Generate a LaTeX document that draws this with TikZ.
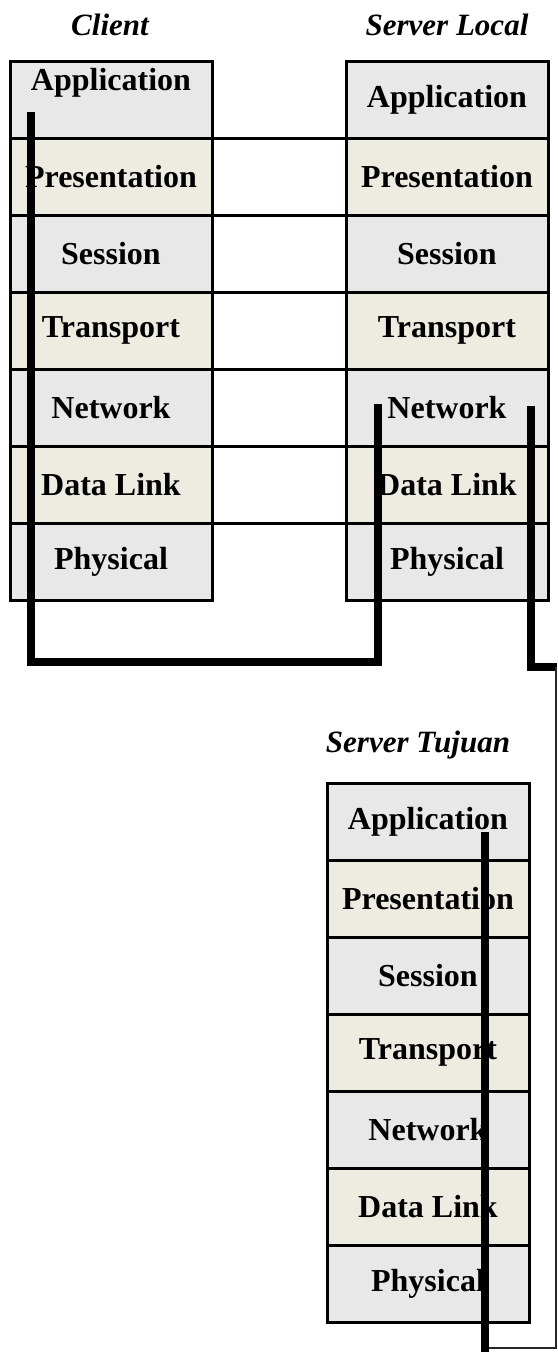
\documentclass[tikz,border=0pt]{standalone}
\usepackage{fontspec}
\setmainfont{Liberation Serif}
\definecolor{layergray}{HTML}{E8E8E8}
\definecolor{layercream}{HTML}{EEEBE0}

\begin{document}
\begin{tikzpicture}[x=1pt,y=-1pt,font=\fontsize{32}{38}\selectfont\bfseries,layer/.style={draw,line width=3pt,outer sep=0pt,inner sep=0pt,minimum width=202pt,minimum height=77pt,fill=#1},layer/.default=layergray,head/.style={font=\fontsize{31}{37}\selectfont\bfseries\itshape},sep/.style={line width=3pt},wire/.style={line width=7.5pt},thinwire/.style={line width=2pt,black!85}]
\useasboundingbox (0,0) rectangle (557,1352);
% titles
\node[head] (client) at (110,25) {Client};
\node[head] (local) at (447,25) {Server Local};
\node[head] (tujuan) at (418,745) {Server Tujuan};
% client stack
\node[layer] (cApp) at (111,99.5) {\raisebox{40pt}{Application}};
\node[layer=layercream] (cPres) at (111,176.5) {Presentation};
\node[layer] (cSess) at (111,253.5) {Session};
\node[layer=layercream] (cTrans) at (111,330.5) {Transport};
\node[layer] (cNet) at (111,407.5) {Network};
\node[layer=layercream] (cLink) at (111,484.5) {Data Link};
\node[layer] (cPhys) at (111,561.5) {Physical};
% server local stack
\node[layer] (lApp) at (447,99.5) {Application};
\node[layer=layercream] (lPres) at (447,176.5) {Presentation};
\node[layer] (lSess) at (447,253.5) {Session};
\node[layer=layercream] (lTrans) at (447,330.5) {Transport};
\node[layer] (lNet) at (447,407.5) {Network};
\node[layer=layercream] (lLink) at (447,484.5) {Data Link};
\node[layer] (lPhys) at (447,561.5) {Physical};
% server tujuan stack
\node[layer] (tApp) at (428,821.5) {Application};
\node[layer=layercream] (tPres) at (428,898.5) {Presentation};
\node[layer] (tSess) at (428,975.5) {Session};
\node[layer=layercream] (tTrans) at (428,1052.5) {Transport};
\node[layer] (tNet) at (428,1129.5) {Network};
\node[layer=layercream] (tLink) at (428,1206.5) {Data Link};
\node[layer] (tPhys) at (428,1283.5) {Physical};
% row lines between client and server local
\draw[sep] (cApp.south east)--(lApp.south west);
\draw[sep] (cPres.south east)--(lPres.south west);
\draw[sep] (cSess.south east)--(lSess.south west);
\draw[sep] (cTrans.south east)--(lTrans.south west);
\draw[sep] (cNet.south east)--(lNet.south west);
\draw[sep] (cLink.south east)--(lLink.south west);
% data path
\coordinate (cStart) at (31,112);
\coordinate (lIn) at (378,404);
\coordinate (lOut) at (531,406);
\coordinate (edge) at (557,667);
\coordinate (edgeTop) at (556,667);
\coordinate (edgeEnd) at (489,1348);
\coordinate (tBottom) at (485,1352);
\coordinate (tEnd) at (485,832);
\draw[wire] (cStart)--(31,662)-|(lIn);
\draw[wire] (lOut)|-(edge);
\draw[thinwire] (edgeTop)|-(edgeEnd);
\draw[wire] (tBottom)--(tEnd);
\end{tikzpicture}
\end{document}
